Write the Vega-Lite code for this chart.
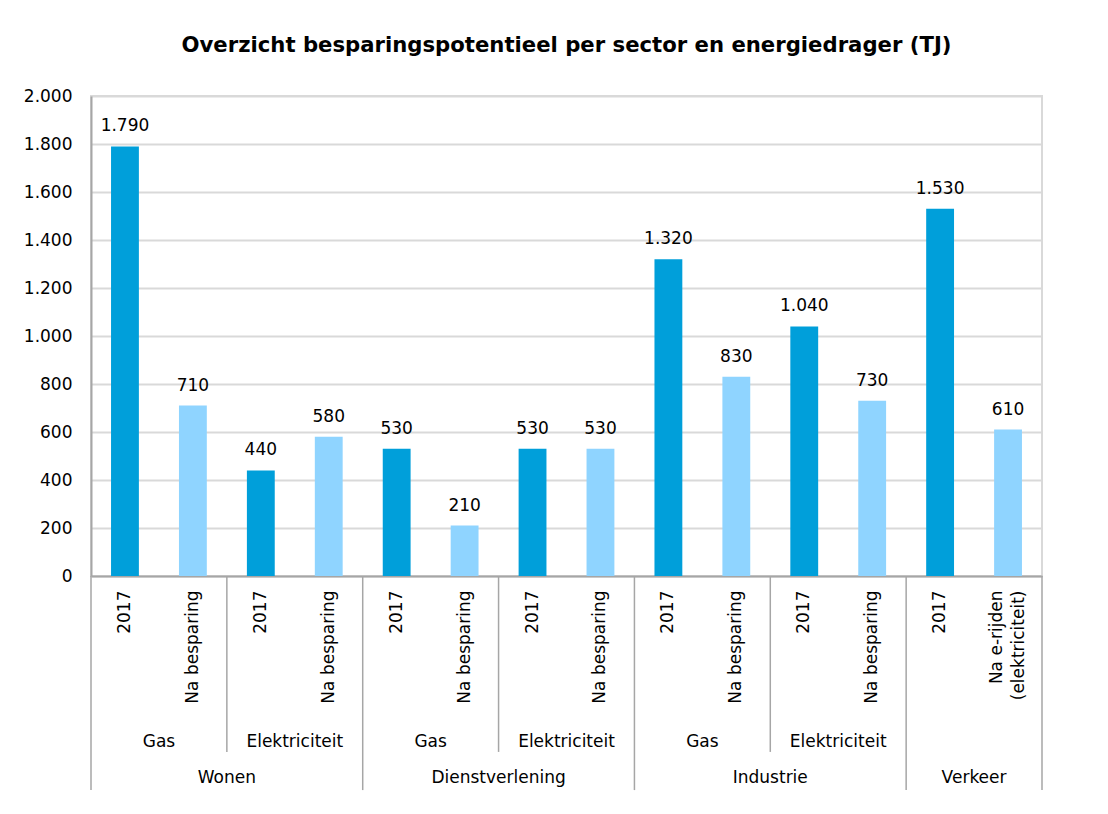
{
  "$schema": "https://vega.github.io/schema/vega-lite/v6.json",
  "width": 951,
  "height": 480,
  "autosize": {"type": "none"},
  "padding": {"left": 91, "top": 96, "right": 66, "bottom": 238},
  "background": "#ffffff",
  "title": {
    "text": "Overzicht besparingspotentieel per sector en energiedrager (TJ)",
    "font": "DejaVu Sans",
    "fontSize": 21.2,
    "fontWeight": "bold",
    "color": "#000000",
    "anchor": "middle",
    "offset": 31
  },
  "config": {
    "locale": {"number": {"decimal": ",", "thousands": ".", "grouping": [3], "currency": ["€", ""]}},
    "view": {"stroke": "#D9D9D9", "strokeWidth": 2},
    "font": "DejaVu Sans",
    "text": {"font": "DejaVu Sans", "fontSize": 17, "color": "#000000"}
  },
  "datasets": {
    "main": [
      {"bar": "Wonen|Gas|2017", "sector": "Wonen", "carrier": "Gas", "fase": "2017", "value": 1790},
      {"bar": "Wonen|Gas|Na besparing", "sector": "Wonen", "carrier": "Gas", "fase": "na", "value": 710},
      {"bar": "Wonen|Elektriciteit|2017", "sector": "Wonen", "carrier": "Elektriciteit", "fase": "2017", "value": 440},
      {"bar": "Wonen|Elektriciteit|Na besparing", "sector": "Wonen", "carrier": "Elektriciteit", "fase": "na", "value": 580},
      {"bar": "Dienstverlening|Gas|2017", "sector": "Dienstverlening", "carrier": "Gas", "fase": "2017", "value": 530},
      {"bar": "Dienstverlening|Gas|Na besparing", "sector": "Dienstverlening", "carrier": "Gas", "fase": "na", "value": 210},
      {"bar": "Dienstverlening|Elektriciteit|2017", "sector": "Dienstverlening", "carrier": "Elektriciteit", "fase": "2017", "value": 530},
      {"bar": "Dienstverlening|Elektriciteit|Na besparing", "sector": "Dienstverlening", "carrier": "Elektriciteit", "fase": "na", "value": 530},
      {"bar": "Industrie|Gas|2017", "sector": "Industrie", "carrier": "Gas", "fase": "2017", "value": 1320},
      {"bar": "Industrie|Gas|Na besparing", "sector": "Industrie", "carrier": "Gas", "fase": "na", "value": 830},
      {"bar": "Industrie|Elektriciteit|2017", "sector": "Industrie", "carrier": "Elektriciteit", "fase": "2017", "value": 1040},
      {"bar": "Industrie|Elektriciteit|Na besparing", "sector": "Industrie", "carrier": "Elektriciteit", "fase": "na", "value": 730},
      {"bar": "Verkeer||2017", "sector": "Verkeer", "carrier": "", "fase": "2017", "value": 1530},
      {"bar": "Verkeer||Na e-rijden~(elektriciteit)", "sector": "Verkeer", "carrier": "", "fase": "na", "value": 610}
    ],
    "sectors": [
      {"bar": "Wonen|Elektriciteit|2017", "sector": "Wonen"},
      {"bar": "Dienstverlening|Elektriciteit|2017", "sector": "Dienstverlening"},
      {"bar": "Industrie|Elektriciteit|2017", "sector": "Industrie"},
      {"bar": "Verkeer||Na e-rijden~(elektriciteit)", "sector": "Verkeer"}
    ],
    "seps": [
      {"bar": "Wonen|Gas|2017", "level": "sector"},
      {"bar": "Wonen|Elektriciteit|2017", "level": "group"},
      {"bar": "Dienstverlening|Gas|2017", "level": "sector"},
      {"bar": "Dienstverlening|Elektriciteit|2017", "level": "group"},
      {"bar": "Industrie|Gas|2017", "level": "sector"},
      {"bar": "Industrie|Elektriciteit|2017", "level": "group"},
      {"bar": "Verkeer||2017", "level": "sector"},
      {"bar": "Verkeer||Na e-rijden~(elektriciteit)", "level": "end"}
    ]
  },
  "layer": [
    {
      "data": {"name": "main"},
      "mark": {"type": "bar", "width": {"band": 0.41}},
      "encoding": {
        "x": {
          "field": "bar",
          "type": "ordinal",
          "sort": null,
          "scale": {"paddingInner": 0, "paddingOuter": 0},
          "axis": {
            "title": null,
            "labelExpr": "split(split(datum.label, '|')[2], '~')",
            "labelAngle": -90,
            "labelAlign": "right",
            "labelBaseline": "middle",
            "labelOffset": {"condition": {"test": "indexof(datum.label, '~') >= 0", "value": -11}, "value": 0},
            "labelPadding": 14,
            "labelFontSize": 17,
            "labelFont": "DejaVu Sans",
            "labelColor": "#000000",
            "labelOverlap": false,
            "labelLimit": 300,
            "labelLineHeight": 22,
            "ticks": false,
            "tickSize": 0,
            "domainColor": "#A6A6A6",
            "domainWidth": 2
          }
        },
        "y": {
          "field": "value",
          "type": "quantitative",
          "scale": {"domain": [0, 2000], "nice": false, "zero": true},
          "axis": {
            "title": null,
            "values": [0, 200, 400, 600, 800, 1000, 1200, 1400, 1600, 1800, 2000],
            "labelExpr": "replace(format(datum.value, ',d'), ',', '.')",
            "labelFontSize": 17,
            "labelFont": "DejaVu Sans",
            "labelColor": "#000000",
            "labelPadding": 19,
            "ticks": false,
            "tickSize": 0,
            "domainColor": "#A6A6A6",
            "domainWidth": 2,
            "gridColor": "#D9D9D9",
            "gridWidth": 2
          }
        },
        "color": {
          "field": "fase",
          "type": "nominal",
          "scale": {"domain": ["2017", "na"], "range": ["#009FDA", "#8FD4FF"]},
          "legend": null
        }
      }
    },
    {
      "data": {"name": "main"},
      "mark": {"type": "text", "baseline": "alphabetic", "align": "center", "dy": -15, "fontSize": 17},
      "encoding": {
        "x": {"field": "bar", "type": "ordinal", "sort": null},
        "y": {"field": "value", "type": "quantitative"},
        "text": {"field": "value", "type": "quantitative", "format": ","}
      }
    },
    {
      "data": {"name": "main"},
      "transform": [{"filter": "datum.fase == 'na' && datum.carrier != ''"}],
      "mark": {"type": "text", "baseline": "middle", "align": "center", "fontSize": 17},
      "encoding": {
        "x": {"field": "bar", "type": "ordinal", "sort": null, "bandPosition": 0},
        "y": {"datum": -692},
        "text": {"field": "carrier", "type": "nominal"}
      }
    },
    {
      "data": {"name": "sectors"},
      "mark": {"type": "text", "baseline": "middle", "align": "center", "fontSize": 17},
      "encoding": {
        "x": {"field": "bar", "type": "ordinal", "sort": null, "bandPosition": 0},
        "y": {"datum": -842},
        "text": {"field": "sector", "type": "nominal"}
      }
    },
    {
      "data": {"name": "seps"},
      "transform": [{"filter": "datum.level == 'sector'"}],
      "mark": {"type": "rule", "color": "#A6A6A6", "strokeWidth": 1.5},
      "encoding": {
        "x": {"field": "bar", "type": "ordinal", "sort": null, "bandPosition": 0},
        "y": {"datum": 0},
        "y2": {"datum": -892}
      }
    },
    {
      "data": {"name": "seps"},
      "transform": [{"filter": "datum.level == 'group'"}],
      "mark": {"type": "rule", "color": "#A6A6A6", "strokeWidth": 1.5},
      "encoding": {
        "x": {"field": "bar", "type": "ordinal", "sort": null, "bandPosition": 0},
        "y": {"datum": 0},
        "y2": {"datum": -733}
      }
    },
    {
      "data": {"name": "seps"},
      "transform": [{"filter": "datum.level == 'end'"}],
      "mark": {"type": "rule", "color": "#A6A6A6", "strokeWidth": 1.5},
      "encoding": {
        "x": {"field": "bar", "type": "ordinal", "sort": null, "bandPosition": 1},
        "y": {"datum": 0},
        "y2": {"datum": -892}
      }
    }
  ]
}
